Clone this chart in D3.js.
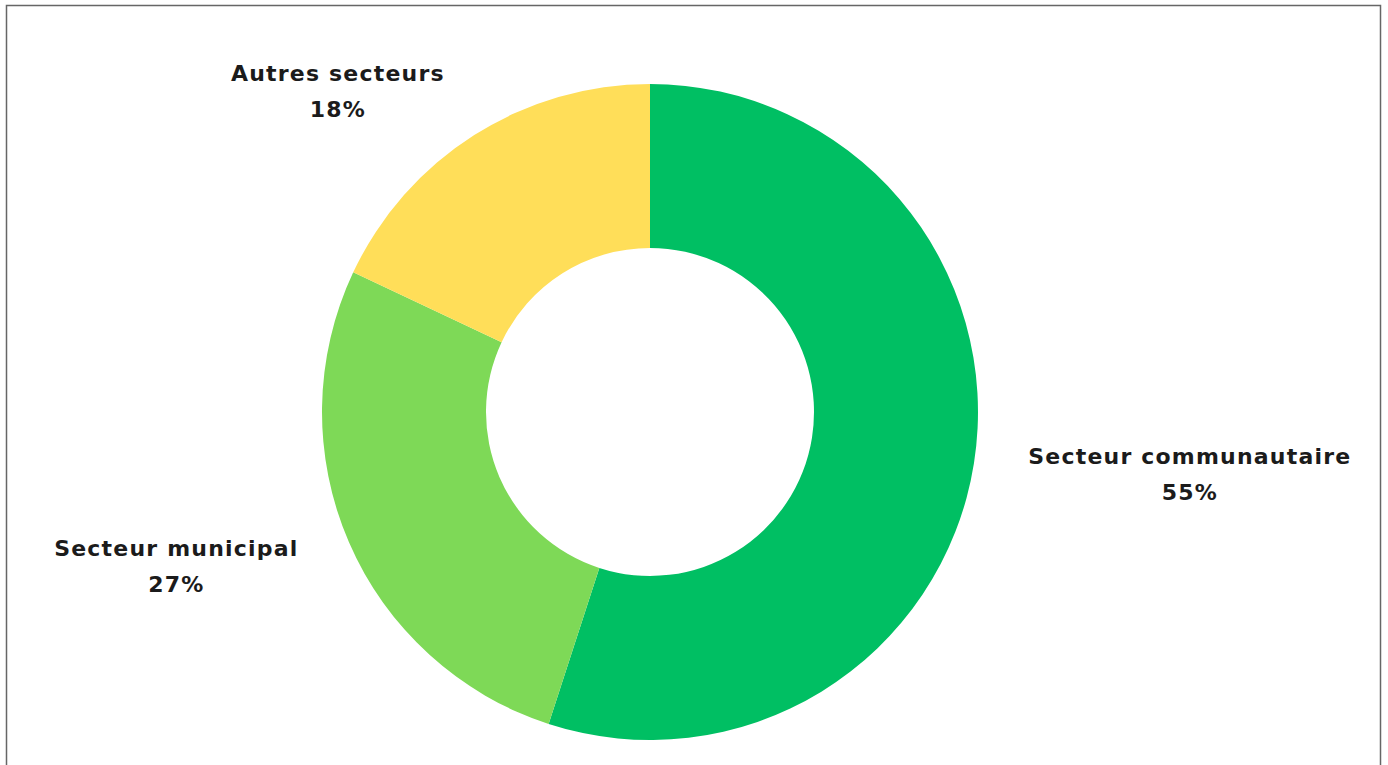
<!DOCTYPE html>
<html>
<head>
<meta charset="utf-8">
<script src="https://cdn.jsdelivr.net/npm/d3@7"></script>
<style>
  html, body { margin: 0; padding: 0; background: #fff; }
  svg { display: block; }
  .lbl { font-family: "DejaVu Sans", sans-serif; font-weight: bold; font-size: 22px; fill: #1b1b1b; letter-spacing: 1.2px; }
</style>
</head>
<body>
<svg id="chart" width="1388" height="765"></svg>
<script>
// données
const categories = ["Secteur communautaire", "Secteur municipal", "Autres secteurs"]
const values = [55, 27, 18]
const colors = ["#00bf63", "#7ed957", "#ffde59"]

const width = 1388, height = 765
const cx = 650, cy = 412
const outerR = 328, innerR = 164
const labelR = 383

const svg = d3.select("#chart")

// cadre
svg.append("rect")
    .attr("x", 6.5).attr("y", 5.5)
    .attr("width", 1374).attr("height", 780)
    .attr("fill", "none")
    .attr("stroke", "#666")
    .attr("stroke-width", 1.5)

let data = categories.map((c, i) => ({category: c, value: values[i], color: colors[i]}))

let pie = d3.pie()
    .value(d => d.value)
    .sort(null)

let arc = d3.arc()
    .innerRadius(innerR)
    .outerRadius(outerR)

let g = svg.append("g").attr("transform", `translate(${cx},${cy})`)

let arcs = pie(data)

g.selectAll("path")
    .data(arcs)
    .join("path")
    .attr("d", arc)
    .attr("fill", d => d.data.color)

// etiquettes, placées le long de l'angle moyen
let labels = g.selectAll("g.label")
    .data(arcs)
    .join("g")
    .attr("class", "label")

labels.each(function (d) {
    let a = (d.startAngle + d.endAngle) / 2
    let px = labelR * Math.sin(a)
    let py = -labelR * Math.cos(a)
    let right = px > 0
    let grp = d3.select(this)
    let name = grp.append("text").attr("class", "lbl").text(d.data.category)
    let w = name.node().getComputedTextLength()
    let mx = right ? px + w / 2 : px - w / 2
    name.attr("x", mx).attr("y", py - 8).attr("text-anchor", "middle")
    grp.append("text").attr("class", "lbl")
        .attr("x", mx).attr("y", py + 28)
        .attr("text-anchor", "middle")
        .text(d.data.value + "%")
})
</script>
</body>
</html>
